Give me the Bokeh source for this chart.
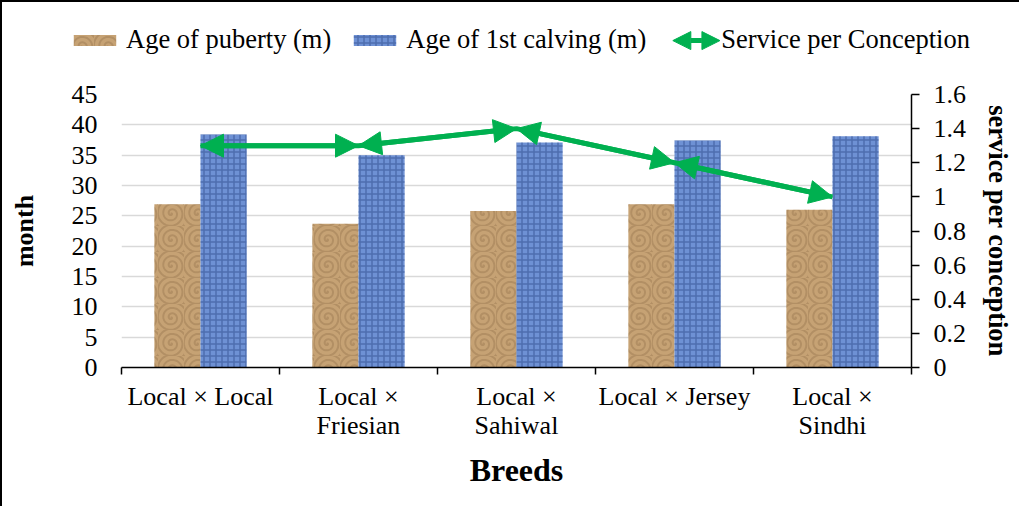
import numpy as np
from bokeh.plotting import figure
from bokeh.models import (ColumnDataSource, Range1d, LinearAxis, FixedTicker,
                          NumeralTickFormatter, Legend, LegendItem, Arrow, NormalHead)
from bokeh.transform import dodge
from bokeh.embed import file_html
from bokeh.resources import INLINE

# ---------------- data ----------------
breeds = ["Local × Local", "Local ×\nFriesian", "Local ×\nSahiwal", "Local × Jersey", "Local ×\nSindhi"]
age_puberty = [26.9, 23.7, 25.8, 26.9, 26.0]
age_calving = [38.4, 35.0, 37.1, 37.4, 38.1]
service_per_conception = [1.3, 1.3, 1.4, 1.2, 1.0]
month_ticks = [0, 5, 10, 15, 20, 25, 30, 35, 40, 45]
service_ticks = [0, 0.2, 0.4, 0.6, 0.8, 1.0, 1.2, 1.4, 1.6]
series_names = ["Age of puberty (m)", "Age of 1st calving (m)", "Service per Conception"]

FONT = "Liberation Serif"
GREEN = "#00B050"
PUB_STYLE = dict(fill_color="#C6A274", line_color=None, hatch_pattern="spiral",
                 hatch_color="#7E5E3A", hatch_alpha=0.28, hatch_scale=26, hatch_weight=2)
CALV_STYLE = dict(fill_color="#6E91D4", line_color=None, hatch_pattern="cross",
                  hatch_color="#2B4A8A", hatch_alpha=0.5, hatch_scale=6, hatch_weight=1.5)

centers = [i + 0.5 for i in range(len(breeds))]
src = ColumnDataSource(dict(x=centers, pub=age_puberty, calv=age_calving,
                            svc=service_per_conception))

# ---------------- main chart ----------------
p = figure(width=1019, height=436, output_backend="svg", toolbar_location=None,
           x_range=Range1d(0, len(breeds)), y_range=Range1d(0, month_ticks[-1]),
           min_border_left=119, min_border_top=24, min_border_right=110,
           min_border_bottom=139)
p.styles = {"border-left": "2px solid black"}
p.outline_line_color = None
p.extra_y_ranges = {"svc": Range1d(0, service_ticks[-1])}

p.vbar(x=dodge("x", -0.146, range=p.x_range), top="pub", width=0.292, source=src, **PUB_STYLE)
p.vbar(x=dodge("x", 0.146, range=p.x_range), top="calv", width=0.292, source=src, **CALV_STYLE)

p.line(x="x", y="svc", source=src, y_range_name="svc", line_color=GREEN, line_width=5)
seg = ColumnDataSource(dict(x0=centers[:-1], y0=service_per_conception[:-1],
                            x1=centers[1:], y1=service_per_conception[1:]))
p.add_layout(Arrow(x_start="x0", y_start="y0", x_end="x1", y_end="y1", source=seg,
                   y_range_name="svc", line_color=GREEN, line_width=5,
                   start=NormalHead(size=23, fill_color=GREEN, line_color=GREEN),
                   end=NormalHead(size=23, fill_color=GREEN, line_color=GREEN)))

yl = p.yaxis[0]
yl.ticker = FixedTicker(ticks=month_ticks)
yl.axis_line_color = None
yl.major_tick_line_color = None
yl.minor_tick_line_color = None
yl.major_label_text_font = FONT
yl.major_label_text_font_size = "26px"
yl.major_label_text_color = "black"
yl.major_label_standoff = 18
yl.axis_label = "month"
yl.axis_label_text_font = FONT
yl.axis_label_text_font_style = "bold"
yl.axis_label_text_font_size = "26px"
yl.axis_label_text_color = "black"
yl.axis_label_standoff = 30

yr = LinearAxis(y_range_name="svc", ticker=FixedTicker(ticks=service_ticks),
                formatter=NumeralTickFormatter(format="0.[0]"))
yr.axis_line_color = "black"
yr.axis_line_width = 1.5
yr.major_tick_out = 8
yr.major_tick_in = 0
yr.major_tick_line_width = 1.5
yr.minor_tick_line_color = None
yr.major_label_text_font = FONT
yr.major_label_text_font_size = "26px"
yr.major_label_text_color = "black"
yr.major_label_standoff = 14
yr.axis_label = "service per conception"
yr.axis_label_text_font = FONT
yr.axis_label_text_font_style = "bold"
yr.axis_label_text_font_size = "26.5px"
yr.axis_label_text_color = "black"
yr.axis_label_standoff = 14
p.add_layout(yr, "right")

xa = p.xaxis[0]
xa.ticker = FixedTicker(ticks=centers, minor_ticks=list(range(len(breeds) + 1)))
xa.major_label_overrides = {c: b for c, b in zip(centers, breeds)}
xa.major_tick_line_color = None
xa.minor_tick_line_color = "black"
xa.minor_tick_line_width = 1.5
xa.minor_tick_out = 7
xa.minor_tick_in = 0
xa.axis_line_color = "black"
xa.axis_line_width = 1.5
xa.major_label_text_font = FONT
xa.major_label_text_font_size = "26px"
xa.major_label_text_color = "black"
xa.major_label_text_line_height = 1.0
xa.major_label_standoff = 7
xa.axis_label = "Breeds"
xa.axis_label_text_font = FONT
xa.axis_label_text_font_style = "bold"
xa.axis_label_text_font_size = "32px"
xa.axis_label_text_color = "black"
xa.axis_label_standoff = 9

p.xgrid.grid_line_color = None
p.ygrid.grid_line_color = "#D9D9D9"
p.ygrid.grid_line_width = 1.5

# ---------------- legend strip (pixel coordinates) ----------------
LW, LH = 1017, 68
lg = figure(width=LW + 2, height=LH + 2, output_backend="svg", toolbar_location=None,
            x_range=Range1d(0, LW), y_range=Range1d(0, LH),
            x_axis_type=None, y_axis_type=None,
            min_border_left=0, min_border_right=0, min_border_top=0, min_border_bottom=0)
lg.styles = {"border-left": "2px solid black", "border-top": "2px solid black"}
lg.outline_line_color = None
lg.grid.grid_line_color = None
l_pub = lg.vbar(x="x", top="pub", width=0.292, source=src, visible=False, **PUB_STYLE)
l_calv = lg.vbar(x="x", top="calv", width=0.292, source=src, visible=False, **CALV_STYLE)
l_svc = lg.line(x="x", y="svc", source=src, visible=False, line_color=GREEN,
                line_alpha=0, line_width=5)
legend = Legend(items=[LegendItem(label=series_names[0], renderers=[l_pub]),
                       LegendItem(label=series_names[1], renderers=[l_calv]),
                       LegendItem(label=series_names[2], renderers=[l_svc])],
                orientation="horizontal", location=(66, 17),
                glyph_width=53, glyph_height=14, label_standoff=5, spacing=17,
                padding=0, margin=0, border_line_color=None, background_fill_alpha=0,
                inactive_fill_alpha=0,
                label_text_font=FONT, label_text_font_size="26.5px",
                label_text_color="black")
lg.add_layout(legend, "center")
lg.add_layout(Arrow(x_start=669, y_start=31, x_end=716, y_end=31,
                    line_color=GREEN, line_width=5,
                    start=NormalHead(size=18, fill_color=GREEN, line_color=GREEN),
                    end=NormalHead(size=18, fill_color=GREEN, line_color=GREEN)))

open("out.html", "w").write(file_html([lg, p], INLINE))
